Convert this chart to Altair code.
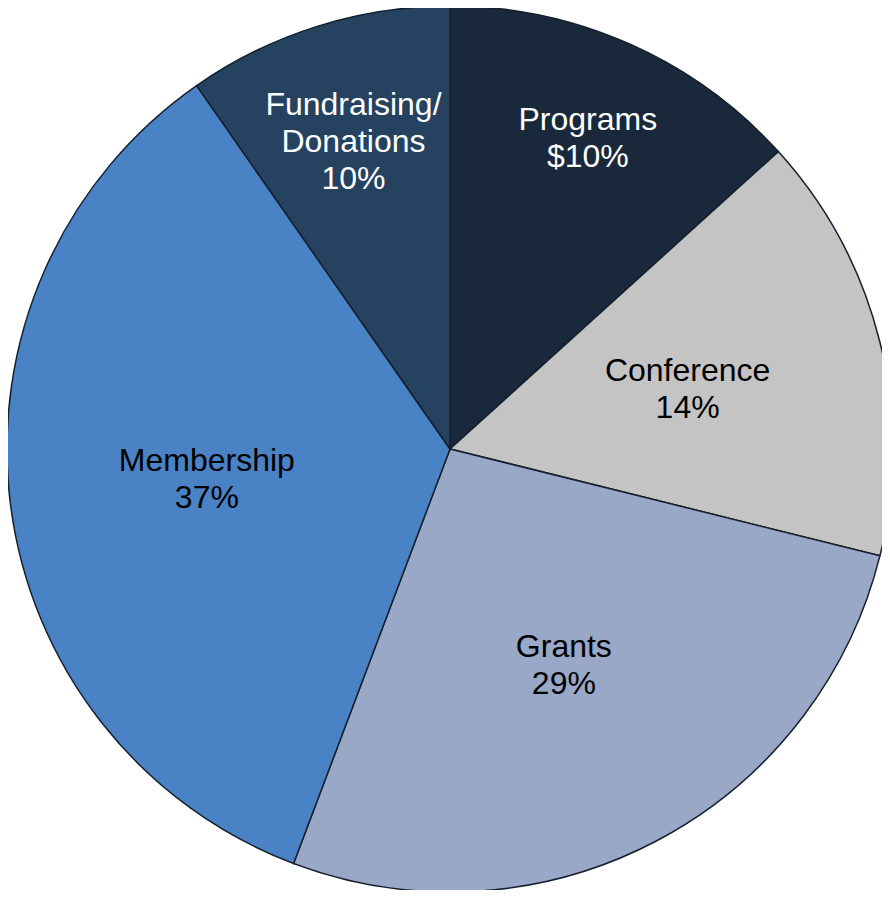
import altair as alt
import pandas as pd

categories = ["Programs", "Conference", "Grants", "Membership", "Fundraising/Donations"]
shares = [13.3, 15.6, 26.9, 34.6, 9.7]
labels = ["Programs\n$10%", "Conference\n14%", "Grants\n29%", "Membership\n37%", "Fundraising/\nDonations\n10%"]
colors = ["#19283b", "#c4c4c4", "#98a8c6", "#4a83c5", "#254261"]

df = pd.DataFrame({
    "cat": categories,
    "value": shares,
    "label": labels,
    "idx": list(range(len(categories))),
})
total = float(sum(shares))

theta_scale = alt.Scale(domain=[0, total], range=[0, 6.283185307179586])
LINE_H = 37

base = alt.Chart(df).transform_window(
    cum="sum(value)", sort=[alt.SortField("idx")], frame=[None, 0]
).transform_calculate(
    start="datum.cum - datum.value",
    mid="datum.cum - datum.value / 2",
    lr="datum.value < 11 ? 322 : (datum.value < 14 ? 340 : 245)",
    nlines="length(split(datum.label, '\\n'))",
).encode(
    x=alt.value(442),
    y=alt.value(441),
)

pie = base.mark_arc(radius=443, stroke="#15202e", strokeWidth=1.5).encode(
    theta=alt.Theta("start:Q", scale=theta_scale, stack=None),
    theta2="cum:Q",
    color=alt.Color("cat:N", scale=alt.Scale(domain=categories, range=colors), legend=None),
)


def text_layer(n):
    return base.transform_filter(f"datum.nlines == {n}").mark_text(
        font="Liberation Sans", fontSize=32, lineBreak="\n", lineHeight=LINE_H,
        align="center", baseline="middle", dy=-(n - 1) * LINE_H / 2
    ).encode(
        theta=alt.Theta("mid:Q", scale=theta_scale, stack=None),
        radius=alt.Radius("lr:Q", scale=None),
        text="label:N",
        color=alt.condition(
            alt.FieldOneOfPredicate(field="cat", oneOf=["Programs", "Fundraising/Donations"]),
            alt.value("white"), alt.value("black")
        ),
    )


chart = alt.layer(pie, text_layer(2), text_layer(3)).properties(
    width=874, height=882, padding=0, autosize=alt.AutoSizeParams(type="none")
).configure_view(stroke=None)

chart.save("out.html", embed_options={"renderer": "svg", "actions": False})
